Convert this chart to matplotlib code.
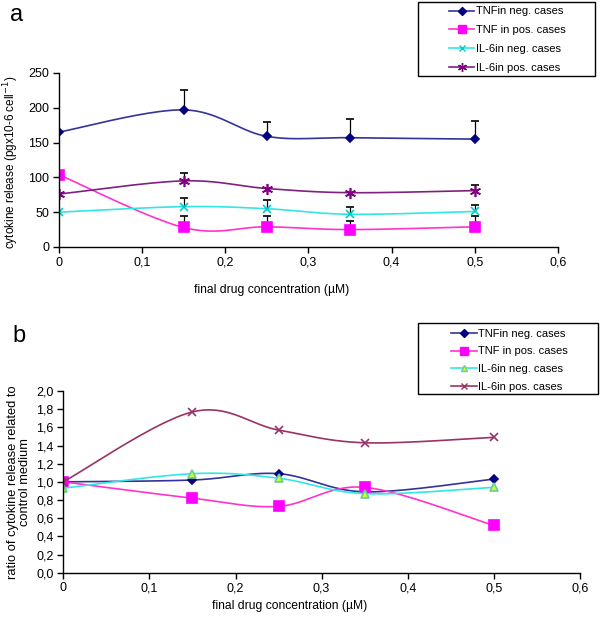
import numpy as np
import matplotlib.pyplot as plt
from matplotlib.patches import Rectangle
from matplotlib.ticker import FuncFormatter

plt.rcParams['font.family'] = ['Liberation Sans', 'DejaVu Sans']

conc = [0, 0.15, 0.25, 0.35, 0.5]

# panel a: cytokine release
tnf_neg_a = [165, 197, 159, 157, 155]
tnf_pos_a = [104, 28, 29, 25, 29]
il6_neg_a = [50, 58, 55, 47, 51]
il6_pos_a = [76, 95, 84, 78, 81]
# tops of error bars (upper only)
tnf_neg_err = [np.nan, 226, 179, 184, 181]
tnf_pos_err = [np.nan, 44, 45, 38, 44]
il6_neg_err = [np.nan, 70, 67, 57, 61]
il6_pos_err = [np.nan, 107, np.nan, np.nan, 89]

# panel b: ratio to control medium
tnf_neg_b = [1.0, 1.02, 1.09, 0.89, 1.03]
tnf_pos_b = [1.0, 0.82, 0.73, 0.94, 0.52]
il6_neg_b = [0.93, 1.09, 1.04, 0.87, 0.94]
il6_pos_b = [1.0, 1.77, 1.57, 1.43, 1.49]

labels = ["TNFin neg. cases", "TNF in pos. cases", "IL-6in neg. cases", "IL-6in pos. cases"]


def smooth(x, y, n=40):
    # Catmull-Rom curve through the points, like Excel's smoothed line
    p = np.column_stack([x, y]).astype(float)
    p = np.vstack([p[0], p, p[-1]])
    out = []
    for i in range(1, len(p) - 2):
        p0, p1, p2, p3 = p[i - 1], p[i], p[i + 1], p[i + 2]
        t = np.linspace(0, 1, n)[:, None]
        c = 0.5 * ((2 * p1) + (-p0 + p2) * t + (2 * p0 - 5 * p1 + 4 * p2 - p3) * t ** 2
                   + (-p0 + 3 * p1 - 3 * p2 + p3) * t ** 3)
        out.append(c)
    c = np.vstack(out)
    return c[:, 0], c[:, 1]


def xfmt(v, pos):
    if abs(v) < 1e-9:
        return "0"
    return f"{v:.1f}".replace(".", ",")


fig = plt.figure(figsize=(6, 6.17), dpi=100)
ax1 = fig.add_axes([0.098, 0.5997, 0.832, 0.282])
ax2 = fig.add_axes([0.1055, 0.0718, 0.861, 0.2945])

styles_a = [
    dict(color="#333399", marker="D", mfc="#000080", mec="#000080", ms=4.5),
    dict(color="#FF33CC", marker="s", mfc="#FF00FF", mec="#FF00FF", ms=7),
    dict(color="#33E6E6", marker="x", mfc="#00CCCC", mec="#00CCCC", ms=6),
    dict(color="#802080", marker=(6, 2, 0), mfc="#800080", mec="#800080", ms=8),
]
series_a = [tnf_neg_a, tnf_pos_a, il6_neg_a, il6_pos_a]
errs_a = [tnf_neg_err, tnf_pos_err, il6_neg_err, il6_pos_err]

handles = []
for y, e, st in zip(series_a, errs_a, styles_a):
    sx, sy = smooth(conc, y)
    ax1.plot(sx, sy, color=st["color"], lw=1.2)
    ax1.vlines(conc, y, e, color="black", lw=0.9)
    ax1.plot(conc, e, "_", color="black", ms=6, mew=1.2)
    ax1.plot(conc, y, ls="none", marker=st["marker"], mfc=st["mfc"], mec=st["mec"],
             ms=st["ms"], mew=1.2)
    handles.append(plt.Line2D([], [], color=st["color"], marker=st["marker"], mfc=st["mfc"],
                              mec=st["mec"], ms=st["ms"] * 0.8, lw=1.2))

styles_b = [
    dict(color="#333399", marker="D", mfc="#000080", mec="#000080", ms=4.5),
    dict(color="#FF33CC", marker="s", mfc="#FF00FF", mec="#FF00FF", ms=7),
    dict(color="#33E6E6", marker="^", mfc="#CCFF33", mec="#66CC99", ms=5.5),
    dict(color="#993366", marker="x", mfc="#993366", mec="#993366", ms=6),
]
series_b = [tnf_neg_b, tnf_pos_b, il6_neg_b, il6_pos_b]
handles_b = []
for y, st in zip(series_b, styles_b):
    sx, sy = smooth(conc, y)
    ax2.plot(sx, sy, color=st["color"], lw=1.2)
    ax2.plot(conc, y, ls="none", marker=st["marker"], mfc=st["mfc"], mec=st["mec"],
             ms=st["ms"], mew=1.2)
    handles_b.append(plt.Line2D([], [], color=st["color"], marker=st["marker"], mfc=st["mfc"],
                                mec=st["mec"], ms=st["ms"] * 0.8, lw=1.2))

for ax in (ax1, ax2):
    ax.set_xlim(0, 0.6)
    ax.set_xticks([0, 0.1, 0.2, 0.3, 0.4, 0.5, 0.6])
    ax.xaxis.set_major_formatter(FuncFormatter(xfmt))
    ax.spines["top"].set_visible(False)
    ax.spines["right"].set_visible(False)
    ax.tick_params(direction="out", length=4, width=1, labelsize=9, color="black", pad=3)
    ax.spines["left"].set_linewidth(1)
    ax.spines["bottom"].set_linewidth(1)

ax1.set_ylim(0, 250)
ax1.set_yticks([0, 50, 100, 150, 200, 250])

ax2.set_ylim(0, 2.0)
ax2.set_yticks(np.arange(0, 2.01, 0.2))
ax2.yaxis.set_major_formatter(FuncFormatter(lambda v, p: f"{v:.1f}".replace(".", ",")))

# axis titles
fig.text(0.453, 0.530, "final drug concentration (\u00b5M)", fontsize=8.7, ha="center", va="center")
fig.text(0.482, 0.018, "final drug concentration (\u00b5M)", fontsize=8.7, ha="center", va="center")
fig.text(0.018, 0.737, "cytokine release (pgx10-6 cell$^{-1}$)", fontsize=8.5,
         rotation=90, ha="center", va="center")
fig.text(0.032, 0.219, "ratio of cytokine release related to\ncontrol medium", fontsize=9.3,
         rotation=90, ha="center", va="center", multialignment="center", linespacing=1.0)

# legends: frameless content plus a separate box, as in the original
leg1 = fig.legend(handles, labels, loc="upper left", bbox_to_anchor=(0.748, 0.9895),
                  fontsize=8, frameon=False, handlelength=2.3, borderpad=0,
                  borderaxespad=0, labelspacing=0.8, handletextpad=0.15)
leg2 = fig.legend(handles_b, labels, loc="upper left", bbox_to_anchor=(0.752, 0.467),
                  fontsize=8, frameon=False, handlelength=2.3, borderpad=0,
                  borderaxespad=0, labelspacing=0.68, handletextpad=0.15)
fig.patches.append(Rectangle((418 / 600, 1 - 76 / 617), 177 / 600, 74 / 617, fill=False,
                             edgecolor="black", lw=1, transform=fig.transFigure))
fig.patches.append(Rectangle((418 / 600, 1 - 394 / 617), 180 / 600, 71 / 617, fill=False,
                             edgecolor="black", lw=1, transform=fig.transFigure))

fig.text(0.017, 0.975, "a", fontsize=17, va="center")
fig.text(0.02, 0.455, "b", fontsize=17, va="center")

fig.savefig("out.png", dpi=100)
